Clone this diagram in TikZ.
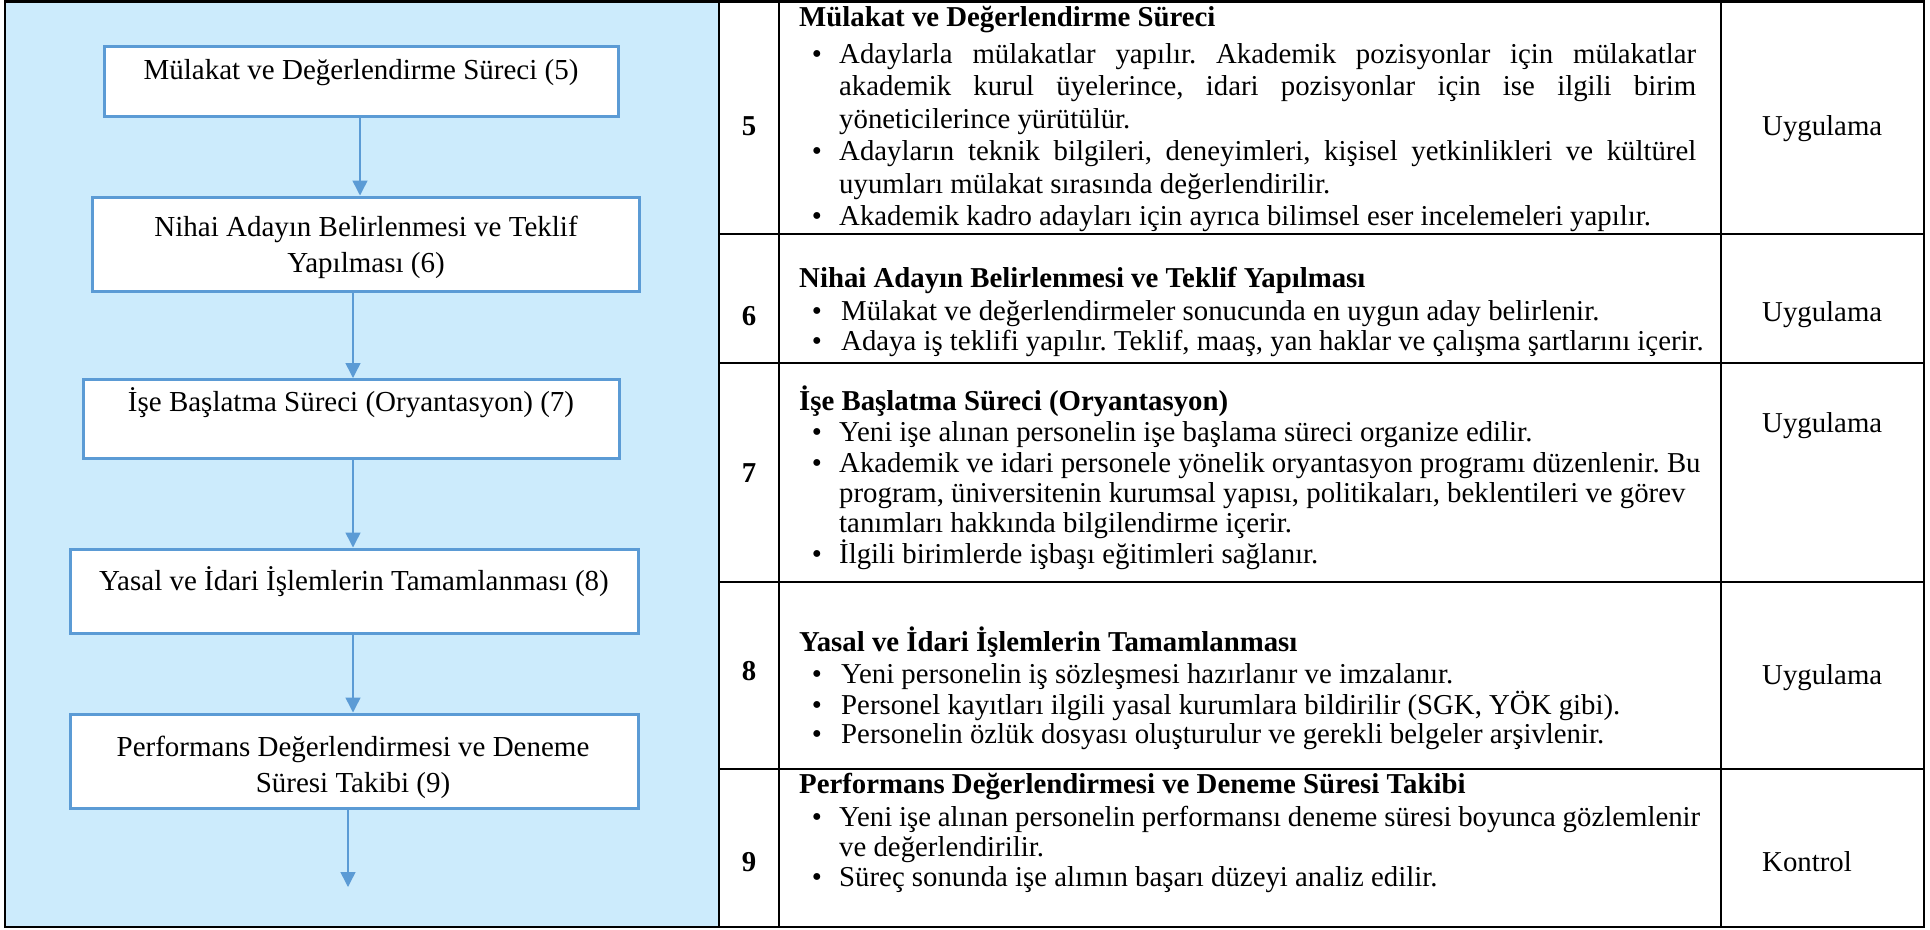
\documentclass[tikz,border=0pt]{standalone}
\usepackage{fontspec}
\setmainfont{Liberation Serif}
\usetikzlibrary{arrows.meta}
\frenchspacing
\definecolor{panelblue}{RGB}{204,235,252}
\definecolor{boxblue}{RGB}{91,155,213}
\newcommand{\jline}[1]{\makebox[857pt][s]{#1}}
\begin{document}
\begin{tikzpicture}[x=1pt,y=-1pt,
  tx/.style={font=\fontsize{28.8}{35}\selectfont, inner sep=0pt, anchor=mid west},
  hd/.style={font=\fontsize{28.8}{35}\selectfont\bfseries, inner sep=0pt, anchor=mid west},
  bul/.style={font=\fontsize{28.8}{35}\selectfont, inner sep=0pt, anchor=mid},
  numtxt/.style={font=\fontsize{28.8}{35}\selectfont\bfseries, inner sep=0pt},
  typetxt/.style={font=\fontsize{28.8}{35}\selectfont, inner sep=0pt, anchor=mid west},
  flowbox/.style={draw=boxblue, line width=3pt, fill=white, inner sep=0pt},
  flowtext/.style={font=\fontsize{29}{36}\selectfont, inner sep=0pt, anchor=mid},
  flowarrow/.style={draw=boxblue, line width=1.5pt, -{Triangle[length=15pt,width=15pt]}},
  tablerule/.style={line width=2.5pt, black}
]
\useasboundingbox (0,0) rectangle (1930,929);

% left panel
\fill[panelblue] (5,1.5) rectangle (719,927);

% flow boxes
\node[flowbox, minimum width=514pt, minimum height=70pt] (b5) at (361,81) {};
\node[flowbox, minimum width=547pt, minimum height=94pt] (b6) at (365.5,244) {};
\node[flowbox, minimum width=536pt, minimum height=79pt] (b7) at (351,419) {};
\node[flowbox, minimum width=568pt, minimum height=84pt] (b8) at (354,591) {};
\node[flowbox, minimum width=568pt, minimum height=94pt] (b9) at (354,761) {};

\node[flowtext] (t5) at (361,77) {Mülakat ve Değerlendirme Süreci (5)};
\node[flowtext] (t6a) at (366,234) {Nihai Adayın Belirlenmesi ve Teklif};
\node[flowtext] (t6b) at (366,270) {Yapılması (6)};
\node[flowtext] (t7) at (351,409) {İşe Başlatma Süreci (Oryantasyon) (7)};
\node[flowtext] (t8) at (354,588) {Yasal ve İdari İşlemlerin Tamamlanması (8)};
\node[flowtext] (t9a) at (353,754) {Performans Değerlendirmesi ve Deneme};
\node[flowtext] (t9b) at (353,790) {Süresi Takibi (9)};

% arrow guide coordinates
\coordinate (x56) at (360,0);
\coordinate (x67) at (353,0);
\coordinate (x78) at (353,0);
\coordinate (x89) at (353,0);
\coordinate (x9e) at (348,0);
\coordinate (endarrow) at (348,887);

\draw[flowarrow] (b5.south -| x56) -- (b6.north -| x56);
\draw[flowarrow] (b6.south -| x67) -- (b7.north -| x67);
\draw[flowarrow] (b7.south -| x78) -- (b8.north -| x78);
\draw[flowarrow] (b8.south -| x89) -- (b9.north -| x89);
\draw[flowarrow] (b9.south -| x9e) -- (endarrow);

% table rules
\draw[tablerule] (5,1.5) rectangle (1924,927);
\draw[tablerule] (719,1.5) -- (719,927);
\draw[tablerule] (779,1.5) -- (779,927);
\draw[tablerule] (1721,1.5) -- (1721,927);
\draw[tablerule] (719,234) -- (1924,234);
\draw[tablerule] (719,363) -- (1924,363);
\draw[tablerule] (719,582) -- (1924,582);
\draw[tablerule] (719,769) -- (1924,769);

% numbers
\node[numtxt] (n5) at (749,126) {5};
\node[numtxt] (n6) at (749,316) {6};
\node[numtxt] (n7) at (749,473) {7};
\node[numtxt] (n8) at (749,671) {8};
\node[numtxt] (n9) at (749,862) {9};

% types
\node[typetxt] (k5) at (1762,133) {Uygulama};
\node[typetxt] (k6) at (1762,319) {Uygulama};
\node[typetxt] (k7) at (1762,430) {Uygulama};
\node[typetxt] (k8) at (1762,682) {Uygulama};
\node[typetxt] (k9) at (1762,869) {Kontrol};

% row 5
\node[hd] (r5h) at (799,24) {Mülakat ve Değerlendirme Süreci};
\node[bul] (r5b1) at (817,61) {•};
\node[tx] (r5l1) at (839,61) {\jline{Adaylarla mülakatlar yapılır. Akademik pozisyonlar için mülakatlar}};
\node[tx] (r5l2) at (839,93) {\jline{akademik kurul üyelerince, idari pozisyonlar için ise ilgili birim}};
\node[tx] (r5l3) at (839,126) {yöneticilerince yürütülür.};
\node[bul] (r5b2) at (817,158) {•};
\node[tx] (r5l4) at (839,158) {\jline{Adayların teknik bilgileri, deneyimleri, kişisel yetkinlikleri ve kültürel}};
\node[tx] (r5l5) at (839,191) {uyumları mülakat sırasında değerlendirilir.};
\node[bul] (r5b3) at (817,223) {•};
\node[tx] (r5l6) at (839,223) {Akademik kadro adayları için ayrıca bilimsel eser incelemeleri yapılır.};

% row 6
\node[hd] (r6h) at (799,285) {Nihai Adayın Belirlenmesi ve Teklif Yapılması};
\node[bul] (r6b1) at (817,318) {•};
\node[tx] (r6l1) at (841,318) {Mülakat ve değerlendirmeler sonucunda en uygun aday belirlenir.};
\node[bul] (r6b2) at (817,348) {•};
\node[tx] (r6l2) at (841,348) {Adaya iş teklifi yapılır. Teklif, maaş, yan haklar ve çalışma şartlarını içerir.};

% row 7
\node[hd] (r7h) at (799,408) {İşe Başlatma Süreci (Oryantasyon)};
\node[bul] (r7b1) at (817,439) {•};
\node[tx] (r7l1) at (839,439) {Yeni işe alınan personelin işe başlama süreci organize edilir.};
\node[bul] (r7b2) at (817,470) {•};
\node[tx] (r7l2) at (839,470) {Akademik ve idari personele yönelik oryantasyon programı düzenlenir. Bu};
\node[tx] (r7l3) at (839,500) {program, üniversitenin kurumsal yapısı, politikaları, beklentileri ve görev};
\node[tx] (r7l4) at (839,530) {tanımları hakkında bilgilendirme içerir.};
\node[bul] (r7b3) at (817,561) {•};
\node[tx] (r7l5) at (839,561) {İlgili birimlerde işbaşı eğitimleri sağlanır.};

% row 8
\node[hd] (r8h) at (799,649) {Yasal ve İdari İşlemlerin Tamamlanması};
\node[bul] (r8b1) at (817,681) {•};
\node[tx] (r8l1) at (841,681) {Yeni personelin iş sözleşmesi hazırlanır ve imzalanır.};
\node[bul] (r8b2) at (817,712) {•};
\node[tx] (r8l2) at (841,712) {Personel kayıtları ilgili yasal kurumlara bildirilir (SGK, YÖK gibi).};
\node[bul] (r8b3) at (817,741) {•};
\node[tx] (r8l3) at (841,741) {Personelin özlük dosyası oluşturulur ve gerekli belgeler arşivlenir.};

% row 9
\node[hd] (r9h) at (799,791) {Performans Değerlendirmesi ve Deneme Süresi Takibi};
\node[bul] (r9b1) at (817,824) {•};
\node[tx] (r9l1) at (839,824) {\makebox[861pt][s]{Yeni işe alınan personelin performansı deneme süresi boyunca gözlemlenir}};
\node[tx] (r9l2) at (839,854) {ve değerlendirilir.};
\node[bul] (r9b2) at (817,884) {•};
\node[tx] (r9l3) at (839,884) {Süreç sonunda işe alımın başarı düzeyi analiz edilir.};

\end{tikzpicture}
\end{document}
